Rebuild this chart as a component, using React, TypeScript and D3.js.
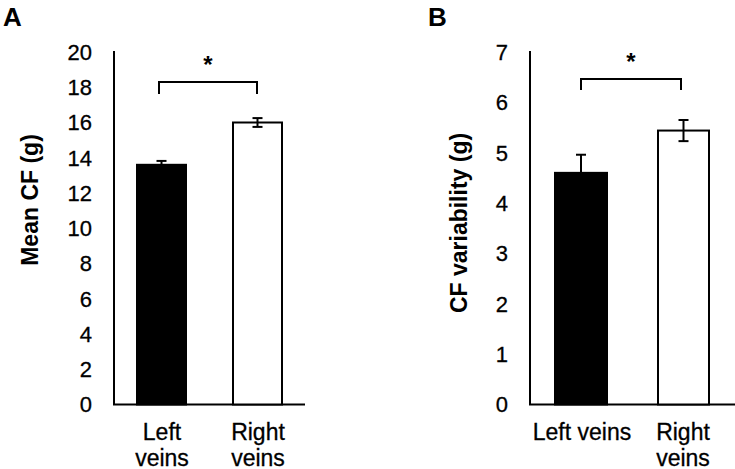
import React from "react";
import * as d3 from "d3";

const categories = ["Left veins", "Right veins"];
const meanCF = [13.6, 16.0];
const meanCFErr = [0.22, 0.25];
const cfVar = [4.6, 5.44];
const cfVarErr = [0.36, 0.21];
const ticksA = [0, 2, 4, 6, 8, 10, 12, 14, 16, 18, 20];
const ticksB = [0, 1, 2, 3, 4, 5, 6, 7];

const FONT = "Liberation Sans, Arial, sans-serif";
const INK = "#000";

type PanelProps = {
  letter: string;
  letterX: number;
  axisX: number;
  axisEnd: number;
  yMax: number;
  ticks: number[];
  values: number[];
  errs: number[];
  barX: [number, number][];
  title: string;
  titleX: number;
  titleY: number;
  bracketY: number;
  bracketDrop: number;
  bracketX: [number, number];
  starY: number;
  labelLines: string[][];
  labelX: number[];
};

function Panel(p: PanelProps) {
  const y = d3.scaleLinear().domain([0, p.yMax]).range([404.5, 52]);
  const base = y(0);
  return (
    <g fontFamily={FONT} fill={INK}>
      <text x={p.letterX} y={25.5} fontSize={26} fontWeight="bold">{p.letter}</text>
      {p.ticks.map((t) => (
        <text key={t} x={p.axisX - 22} y={y(t)} dy="0.36em" textAnchor="end" fontSize={22} stroke="#000" strokeWidth={0.3}>{t}</text>
      ))}
      <line x1={p.axisX} x2={p.axisX} y1={y(p.yMax) - 1} y2={base} stroke={INK} strokeWidth={2} />
      <line x1={p.axisX - 1} x2={p.axisEnd} y1={base} y2={base} stroke={INK} strokeWidth={2} />
      {p.values.map((v, i) => {
        const [x0, x1] = p.barX[i];
        const cx = (x0 + x1) / 2;
        const filled = i === 0;
        const top = y(v + p.errs[i]);
        const bot = y(v - p.errs[i]);
        return (
          <g key={categories[i]}>
            <rect x={x0} y={y(v)} width={x1 - x0} height={base - y(v)}
              fill={filled ? "#000" : "#fff"} stroke="#000" strokeWidth={2} />
            <line x1={cx} x2={cx} y1={top} y2={filled ? y(v) : bot} stroke="#000" strokeWidth={2} />
            <line x1={cx - 5} x2={cx + 5} y1={top} y2={top} stroke="#000" strokeWidth={2} />
            {!filled && <line x1={cx - 5} x2={cx + 5} y1={bot} y2={bot} stroke="#000" strokeWidth={2} />}
          </g>
        );
      })}
      <path
        d={`M${p.bracketX[0]},${p.bracketY + p.bracketDrop}V${p.bracketY}H${p.bracketX[1]}V${p.bracketY + p.bracketDrop}`}
        fill="none" stroke="#000" strokeWidth={2} />
      <text x={(p.bracketX[0] + p.bracketX[1]) / 2} y={p.starY} textAnchor="middle" fontSize={24} fontWeight="bold">*</text>
      <text transform={`translate(${p.titleX},${p.titleY}) rotate(-90)`} textAnchor="middle" fontSize={23} fontWeight="bold" dy="0.35em">{p.title}</text>
      {p.labelLines.map((lines, i) =>
        lines.map((ln, j) => (
          <text key={`${i}-${j}`} x={p.labelX[i]} y={440 + j * 25.5} textAnchor="middle" fontSize={23} stroke="#000" strokeWidth={0.3}>{ln}</text>
        ))
      )}
    </g>
  );
}

export default function App() {
  return (
    <svg width={735} height={469} style={{ display: "block", position: "absolute", left: 0, top: 0, background: "#fff" }}>
      <rect width={735} height={469} fill="#fff" />
      <Panel
        letter="A" letterX={3} axisX={114} axisEnd={305} yMax={20} ticks={ticksA}
        values={meanCF} errs={meanCFErr} barX={[[137, 186], [233, 282]]}
        title="Mean CF (g)" titleX={30} titleY={200}
        bracketY={82} bracketDrop={12} bracketX={[159, 257]} starY={73}
        labelLines={[["Left", "veins"], ["Right", "veins"]]} labelX={[162, 258]}
      />
      <Panel
        letter="B" letterX={428} axisX={530} axisEnd={735} yMax={7} ticks={ticksB}
        values={cfVar} errs={cfVarErr} barX={[[555, 607], [658, 709]]}
        title="CF variability (g)" titleX={459} titleY={223}
        bracketY={79} bracketDrop={11} bracketX={[581, 681]} starY={70}
        labelLines={[["Left veins"], ["Right", "veins"]]} labelX={[582, 683]}
      />
    </svg>
  );
}
